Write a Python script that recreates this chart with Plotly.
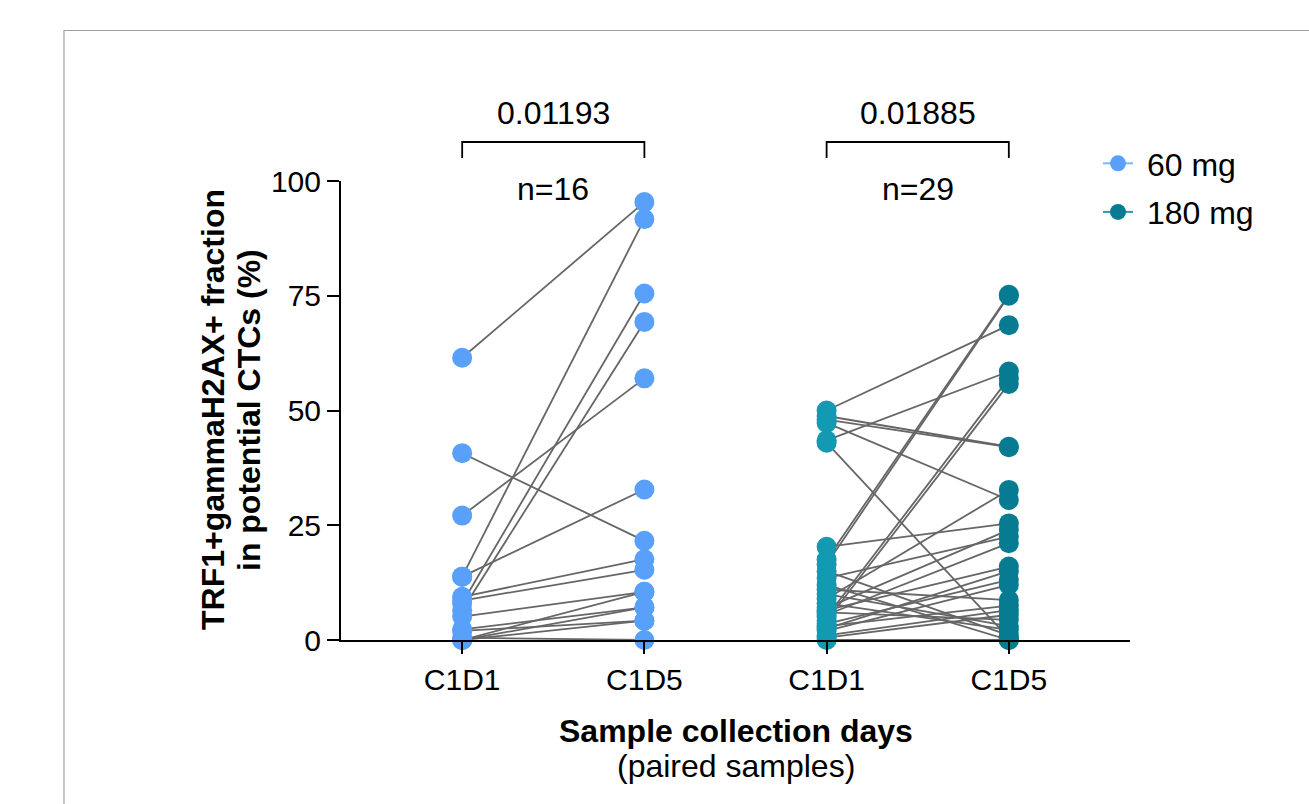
import plotly.graph_objects as go

# ---------------- data ----------------
categories = ["C1D1", "C1D5", "C1D1", "C1D5"]
groups = ["60 mg", "180 mg"]

# 60 mg paired samples (C1D1 -> C1D5), n=16
mg60_c1d1 = [61.5, 40.7, 27.1, 13.8, 13.8, 9.4, 8.6, 8.0, 6.5, 5.1, 0.0, 2.3, 0.0, 0.5, 2.0, 0.0]
mg60_c1d5 = [95.4, 21.6, 57.0, 91.7, 32.8, 17.6, 15.3, 75.5, 69.3, 10.5, 10.5, 7.1, 4.2, 0.0, 4.2, 7.1]

# 180 mg paired samples (C1D1 -> C1D5), n=29
mg180_c1d1 = [50.0, 48.8, 48.0, 47.3, 43.5, 43.0, 20.3, 17.5, 16.5, 5.0,
              4.2, 15.0, 13.5, 12.0, 11.0, 10.0, 9.0, 8.0, 7.0, 6.5,
              6.0, 5.5, 3.5, 3.0, 2.5, 2.0, 1.0, 0.5, 0.0]
mg180_c1d5 = [68.6, 42.1, 42.0, 30.5, 58.5, 0.4, 25.4, 75.2, 75.0, 57.0,
              55.8, 1.0, 22.5, 0.0, 8.7, 3.0, 32.7, 2.2, 24.0, 16.0,
              4.4, 21.1, 13.1, 7.5, 15.0, 12.0, 6.5, 5.5, 0.0]

p_values = ["0.01193", "0.01885"]
n_labels = ["n=16", "n=29"]
y_ticks = [0, 25, 50, 75, 100]

# ---------------- style ----------------
FONT = "Arial, Liberation Sans, Helvetica, sans-serif"
C60 = "#58A0FA"
C180_PRE = "#1399B2"
C180_POST = "#067B92"
LINE_GRAY = "#666666"
MS = 20
FS = 32
TFS = 30

x_pos = [0, 1, 2, 3]
XMIN, XMAX = -0.665, 3.665
L, R, T, B = 341, 179, 181, 164
W, H = 1309, 804
PW, PH = W - L - R, H - T - B


def paired_lines(x0, x1, a, b):
    xs, ys = [], []
    for u, v in zip(a, b):
        xs += [x0, x1, None]
        ys += [u, v, None]
    return xs, ys


def px_x(p):
    return (p - L) / PW


def px_y(p):
    return (H - B - p) / PH


fig = go.Figure()

lx, ly = paired_lines(x_pos[0], x_pos[1], mg60_c1d1, mg60_c1d5)
fig.add_trace(go.Scatter(x=lx, y=ly, mode="lines", line=dict(color=LINE_GRAY, width=1.8),
                         showlegend=False, hoverinfo="skip", cliponaxis=False))
lx, ly = paired_lines(x_pos[2], x_pos[3], mg180_c1d1, mg180_c1d5)
fig.add_trace(go.Scatter(x=lx, y=ly, mode="lines", line=dict(color=LINE_GRAY, width=1.8),
                         showlegend=False, hoverinfo="skip", cliponaxis=False))

fig.add_trace(go.Scatter(
    x=[x_pos[0]] * len(mg60_c1d1) + [x_pos[1]] * len(mg60_c1d5),
    y=mg60_c1d1 + mg60_c1d5, mode="markers",
    marker=dict(color=C60, size=MS), showlegend=False, cliponaxis=False))
fig.add_trace(go.Scatter(
    x=[x_pos[2]] * len(mg180_c1d1), y=mg180_c1d1, mode="markers",
    marker=dict(color=C180_PRE, size=MS), showlegend=False, cliponaxis=False))
fig.add_trace(go.Scatter(
    x=[x_pos[3]] * len(mg180_c1d5), y=mg180_c1d5, mode="markers",
    marker=dict(color=C180_POST, size=MS), showlegend=False, cliponaxis=False))

# legend entries
for name, col, lcol, grp in [(groups[0], C60, "#7DB8FB", "a"), (groups[1], C180_POST, "#2A98AE", "b")]:
    fig.add_trace(go.Scatter(x=[None], y=[None], mode="lines+markers", name="&nbsp;" + name,
                             legendgroup=grp,
                             line=dict(color=lcol, width=2),
                             marker=dict(color=col, size=MS)))


def xpaper(x):
    return (x - XMIN) / (XMAX - XMIN)


def ann(text, x, y, xref="paper", angle=0):
    fig.add_annotation(x=x, y=y, xref=xref, yref="paper", text=text, showarrow=False,
                       xanchor="center", yanchor="middle", textangle=angle,
                       font=dict(family=FONT, size=FS, color="black"))


# significance brackets
for i, (a, b) in enumerate([(x_pos[0], x_pos[1]), (x_pos[2], x_pos[3])]):
    xa, xb = xpaper(a), xpaper(b)
    ytop, ybot = px_y(142), px_y(158)
    fig.add_shape(type="path", xref="paper", yref="paper",
                  path=f"M {xa} {ybot} L {xa} {ytop} L {xb} {ytop} L {xb} {ybot}",
                  line=dict(color="black", width=1.8))
    ann(p_values[i], (a + b) / 2, px_y(113), xref="x")
    ann(n_labels[i], (a + b) / 2, px_y(189), xref="x")

# axis titles
ann("<b>TRF1+gammaH2AX+ fraction</b>", px_x(213), px_y(410), angle=-90)
ann("<b>in potential CTCs (%)</b>", px_x(249), px_y(410), angle=-90)
ann("<b>Sample collection days</b>", 0.5, px_y(731))
ann("(paired samples)", 0.5, px_y(766))

# outer frame
fig.add_shape(type="rect", xref="paper", yref="paper",
              x0=px_x(64), x1=px_x(1330), y0=px_y(830), y1=px_y(30.5),
              line=dict(color="#A0A0A0", width=1.2), layer="below")

fig.update_layout(
    width=W, height=H,
    margin=dict(l=L, r=R, t=T, b=B),
    paper_bgcolor="white", plot_bgcolor="white",
    font=dict(family=FONT, color="black"),
    showlegend=True,
    legend=dict(x=px_x(1098), y=px_y(136), xanchor="left", yanchor="top",
                font=dict(family=FONT, size=FS, color="black"),
                tracegroupgap=4, bgcolor="rgba(0,0,0,0)"),
    xaxis=dict(range=[XMIN, XMAX], tickmode="array", tickvals=x_pos, ticktext=categories,
               showline=True, linecolor="black", linewidth=2,
               ticks="outside", ticklen=12, tickwidth=2, tickcolor="black",
               showgrid=False, zeroline=False,
               tickfont=dict(family=FONT, size=TFS, color="black")),
    yaxis=dict(range=[0, 100], tickmode="array", tickvals=y_ticks,
               showline=True, linecolor="black", linewidth=2,
               ticks="outside", ticklen=12, tickwidth=2, tickcolor="black",
               showgrid=False, zeroline=False,
               tickfont=dict(family=FONT, size=TFS, color="black")),
)

fig.write_html("out.html", config={"displayModeBar": False},
               post_script="document.body.style.margin='0';document.body.style.padding='0';")
